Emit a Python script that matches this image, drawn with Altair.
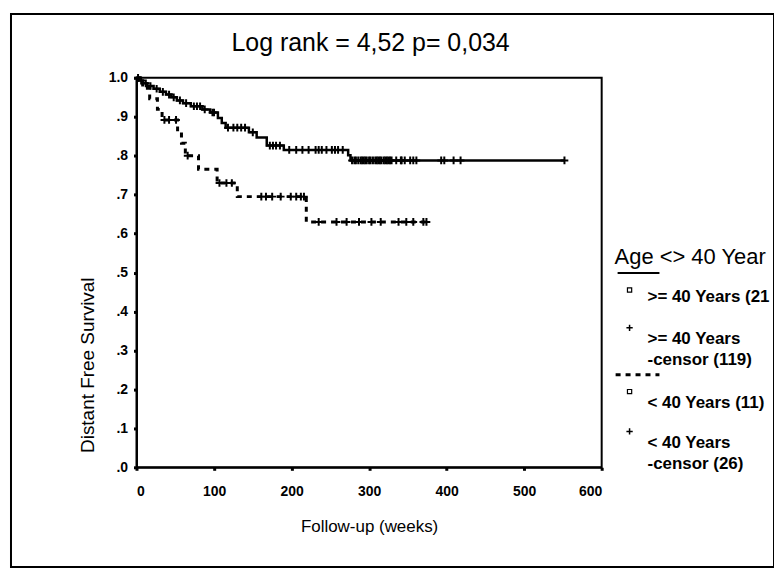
import altair as alt
import pandas as pd
import numpy as np

# ---------------- data ----------------
# Group ">= 40 Years": event (distant relapse) weeks and survival after each event
old_event_weeks = [3, 8, 14, 22, 30, 38, 45, 52, 60, 70, 85, 95, 105, 110, 115, 145, 155, 168, 190, 273, 276]
old_event_surv = [0.993, 0.986, 0.979, 0.972, 0.964, 0.957, 0.950, 0.942, 0.935, 0.927, 0.919, 0.911,
                  0.897, 0.884, 0.872, 0.860, 0.847, 0.826, 0.815, 0.801, 0.788]
old_censor_weeks = [2, 6, 12, 18, 26, 34, 42, 48, 56, 64, 74, 78, 82, 88, 98, 100, 118, 125, 130, 135,
                    140, 150, 172, 176, 180, 185, 197, 206, 214, 222, 231, 235, 239, 245, 252, 256, 260,
                    266, 278, 281, 283, 286, 289, 291, 293, 295, 297, 300, 302, 305, 308, 310, 312, 314,
                    316, 319, 321, 323, 325, 327, 329, 335, 341, 342, 346, 353, 357, 361, 393, 397, 409,
                    418, 552]
old_last_week = 552

# Group "< 40 Years"
young_event_weeks = [8, 17, 27, 33, 53, 58, 63, 80, 104, 130, 219]
young_event_surv = [0.973, 0.946, 0.919, 0.892, 0.862, 0.832, 0.800, 0.765, 0.730, 0.695, 0.630]
young_censor_weeks = [36, 42, 51, 66, 107, 116, 123, 161, 167, 175, 186, 199, 206, 212, 216, 235,
                      258, 271, 287, 303, 315, 338, 348, 357, 370, 374]
young_last_week = 374

x_ticks = [0, 100, 200, 300, 400, 500, 600]
y_ticks = [0.0, 0.1, 0.2, 0.3, 0.4, 0.5, 0.6, 0.7, 0.8, 0.9, 1.0]

title_text = "Log rank = 4,52 p= 0,034"
x_title = "Follow-up (weeks)"
y_title = "Distant Free Survival"
legend_title = "Age <> 40 Years"
legend_labels = [">= 40 Years (21)", ">= 40 Years", "-censor (119)",
                 "< 40 Years (11)", "< 40 Years", "-censor (26)"]

FONT = "Liberation Sans"
CROSS = "M-1,0L1,0M0,-1L0,1"
CUT = "\u200b"


def curve(ev_t, ev_s, end_t):
    t = [0] + list(ev_t) + [end_t]
    s = [1.0] + list(ev_s) + [ev_s[-1]]
    return pd.DataFrame({"week": t, "surv": s})


def censors(ev_t, ev_s, c_t):
    t_arr = np.array([0] + list(ev_t))
    s_arr = np.array([1.0] + list(ev_s))
    idx = np.searchsorted(t_arr, np.array(c_t), side="right") - 1
    return pd.DataFrame({"week": c_t, "surv": s_arr[idx]})


old_curve = curve(old_event_weeks, old_event_surv, old_last_week)
young_curve = curve(young_event_weeks, young_event_surv, young_last_week)
old_cens = censors(old_event_weeks, old_event_surv, old_censor_weeks)
young_cens = censors(young_event_weeks, young_event_surv, young_censor_weeks)

xscale = alt.Scale(domain=[0, 600], nice=False, zero=False)
yscale = alt.Scale(domain=[0, 1], nice=False)

xaxis = alt.Axis(values=x_ticks, title=x_title, grid=False, labelOverlap=False,
                 labelFont=FONT, labelFontSize=14, labelFontWeight="bold", labelColor="black",
                 labelPadding=14, tickSize=3, tickWidth=3, tickColor="black",
                 domainColor="black", domainWidth=2,
                 titleFont=FONT, titleFontSize=17, titleFontWeight="normal", titleColor="black",
                 titleY=59, titleBaseline="middle")
yaxis = alt.Axis(values=y_ticks, title=y_title, grid=False, labelOverlap=False,
                 labelSeparation=0, labelBound=False,
                 labelExpr="datum.value >= 1 ? '1.0' : replace(format(datum.value, '.1f'), '0.', '.')",
                 labelFont=FONT, labelFontSize=14, labelFontWeight="bold", labelColor="black",
                 labelPadding=6, tickSize=3, tickWidth=3, tickColor="black",
                 domainColor="black", domainWidth=2,
                 titleFont=FONT, titleFontSize=19, titleFontWeight="normal", titleColor="black",
                 titleX=-49, titleY=288, titleBaseline="middle", titleAngle=270)

X = alt.X("week:Q", scale=xscale, axis=xaxis)
Y = alt.Y("surv:Q", scale=yscale, axis=yaxis)

old_line = alt.Chart(old_curve).mark_line(interpolate="step-after", color="black",
                                           strokeWidth=2.5).encode(x=X, y=Y)
young_line = alt.Chart(young_curve).mark_line(interpolate="step-after", color="black",
                                               strokeWidth=3, strokeDash=[5, 5]).encode(x=X, y=Y)
old_pts = alt.Chart(old_cens).mark_point(shape=CROSS, size=60, filled=False, color="black",
                                          strokeWidth=2, opacity=1).encode(x=X, y=Y)
young_pts = alt.Chart(young_cens).mark_point(shape=CROSS, size=60, filled=False, color="black",
                                              strokeWidth=2, opacity=1).encode(x=X, y=Y)

one = pd.DataFrame({"k": [0]})

# outer frame
frame = alt.Chart(one).mark_rect(fill=None, stroke="black", strokeWidth=2).encode(
    x=alt.value(-126), x2=alt.value(640), y=alt.value(-64), y2=alt.value(491))

title = alt.Chart(one).mark_text(text=title_text, font=FONT, fontSize=25, align="center",
                                  baseline="middle", color="black").encode(
    x=alt.value(235), y=alt.value(-35))

layers = [old_line, young_line, old_pts, young_pts, frame, title]

# legend
layers.append(alt.Chart(one).mark_text(text=legend_title, font=FONT, fontSize=22, align="left",
                                       baseline="middle", color="black", limit=158, ellipsis=CUT).encode(
    x=alt.value(480), y=alt.value(180)))
layers.append(alt.Chart(one).mark_rule(color="black", strokeWidth=2).encode(
    x=alt.value(483), x2=alt.value(525), y=alt.value(196)))
layers.append(alt.Chart(one).mark_rule(color="black", strokeWidth=3, strokeDash=[5, 5]).encode(
    x=alt.value(481), x2=alt.value(525), y=alt.value(298)))
for yy in (213, 315):
    layers.append(alt.Chart(one).mark_point(shape="square", size=18, filled=False, color="black",
                                            strokeWidth=1.2, opacity=1).encode(
        x=alt.value(495), y=alt.value(yy)))
for yy in (251, 355):
    layers.append(alt.Chart(one).mark_point(shape=CROSS, size=40, filled=False, color="black",
                                            strokeWidth=1.5, opacity=1).encode(
        x=alt.value(495), y=alt.value(yy)))
for lab, yy in zip(legend_labels, [220, 262, 283, 326, 367, 388]):
    layers.append(alt.Chart(one).mark_text(text=lab, font=FONT, fontSize=17, fontWeight="bold",
                                           align="left", baseline="middle", color="black",
                                           limit=126, ellipsis=CUT).encode(
        x=alt.value(513), y=alt.value(yy)))

chart = alt.layer(*layers).properties(
    width=467, height=391,
    autosize=alt.AutoSizeParams(type="none"),
    padding={"left": 129, "top": 69, "right": 173, "bottom": 105},
    background="white",
).configure_view(stroke="black", strokeWidth=2)

chart.save("out.html", embed_options={"renderer": "svg", "actions": False})
